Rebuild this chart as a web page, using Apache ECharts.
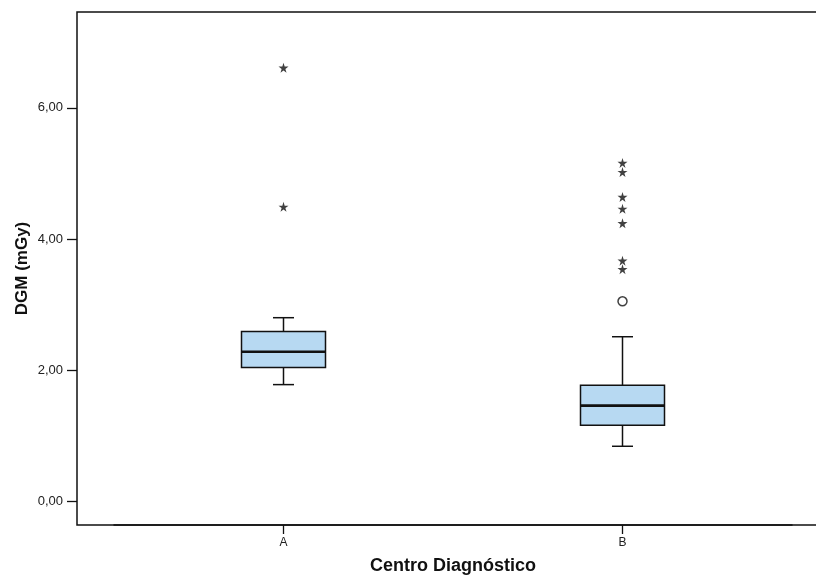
<!DOCTYPE html>
<html>
<head>
<meta charset="utf-8">
<script src="https://cdn.jsdelivr.net/npm/echarts@6/dist/echarts.min.js"></script>
<style>html,body{margin:0;padding:0;background:#fff;}#c{width:816px;height:578px;}</style>
</head>
<body>
<div id="c"></div>
<script>
// ---- data ----
var categories = ['A', 'B'];
// [lower whisker, Q1, median, Q3, upper whisker]
var boxA = [1.78, 2.04, 2.28, 2.59, 2.80];
var boxB = [0.84, 1.16, 1.46, 1.77, 2.51];
var extremesA = [6.61, 4.49];                                // stars
var extremesB = [5.16, 5.02, 4.64, 4.46, 4.24, 3.67, 3.54];  // stars
var outliersB = [3.05];                                      // circle
var yTicks = [0, 2, 4, 6];
var yName = 'DGM (mGy)';
var xName = 'Centro Diagnóstico';

var boxData = [[0].concat(boxA), [1].concat(boxB)];
var starData = extremesA.map(function (v) { return ['A', v]; })
  .concat(extremesB.map(function (v) { return ['B', v]; }));
var circleData = outliersB.map(function (v) { return ['B', v]; });

var STAR = 'path://M50,0 L61,35 L98,35 L68,57 L79,91 L50,70 L21,91 L32,57 L2,35 L39,35 Z';
var YMIN = -0.36, YMAX = 7.46;
var font = '"Liberation Sans", Arial, sans-serif';

function fmt(v) { return v.toFixed(2).replace('.', ','); }

var chart = echarts.init(document.getElementById('c'), null, { renderer: 'canvas' });
chart.setOption({
  backgroundColor: '#ffffff',
  animation: false,
  grid: [
    { left: 77, right: -2, top: 12, bottom: 53, show: true, borderColor: '#111', borderWidth: 1.5,
      backgroundColor: 'transparent', containLabel: false, outerBoundsMode: 'none' },
    { left: 114, width: 678, top: 12, bottom: 53, containLabel: false, outerBoundsMode: 'none' }
  ],
  xAxis: [
    { gridIndex: 0, type: 'value', min: 0, max: 1, show: false },
    {
      gridIndex: 1, type: 'category', data: categories, position: 'bottom',
      axisLine: { show: true, onZero: false, lineStyle: { color: '#111', width: 1.5 } },
      axisTick: { show: true, alignWithLabel: true, length: 9, lineStyle: { color: '#111', width: 1.3 } },
      axisLabel: { color: '#222', fontSize: 12, fontFamily: font, margin: 12 },
      name: xName, nameLocation: 'middle', nameGap: 32,
      nameTextStyle: { color: '#111', fontSize: 18, fontWeight: 'bold', fontFamily: font }
    }
  ],
  yAxis: [
    {
      gridIndex: 0, type: 'value', min: YMIN, max: YMAX,
      axisLine: { show: false },
      splitLine: { show: false },
      axisTick: { show: true, length: 10, customValues: yTicks, lineStyle: { color: '#111', width: 1.3 } },
      axisLabel: { customValues: yTicks, formatter: fmt, color: '#222', fontSize: 13, fontFamily: font, margin: 14 },
      name: yName, nameLocation: 'middle', nameGap: 46, nameRotate: 90, nameMoveOverlap: false,
      nameTextStyle: { color: '#111', fontSize: 17, fontWeight: 'bold', fontFamily: font }
    },
    { gridIndex: 1, type: 'value', min: YMIN, max: YMAX, show: false }
  ],
  series: [
    {
      type: 'custom', xAxisIndex: 1, yAxisIndex: 1,
      data: boxData,
      encode: { x: 0, y: [1, 2, 3, 4, 5] },
      renderItem: function (params, api) {
        var xi = api.value(0);
        var pLo = api.coord([xi, api.value(1)]);
        var pQ1 = api.coord([xi, api.value(2)]);
        var pMd = api.coord([xi, api.value(3)]);
        var pQ3 = api.coord([xi, api.value(4)]);
        var pHi = api.coord([xi, api.value(5)]);
        var cx = pLo[0];
        var hw = 42, cw = 10.5;
        var st = { stroke: '#111', lineWidth: 1.5 };
        return {
          type: 'group',
          children: [
            { type: 'line', shape: { x1: cx, y1: pQ3[1], x2: cx, y2: pHi[1] }, style: st },
            { type: 'line', shape: { x1: cx, y1: pQ1[1], x2: cx, y2: pLo[1] }, style: st },
            { type: 'line', shape: { x1: cx - cw, y1: pHi[1], x2: cx + cw, y2: pHi[1] }, style: st },
            { type: 'line', shape: { x1: cx - cw, y1: pLo[1], x2: cx + cw, y2: pLo[1] }, style: st },
            { type: 'rect', shape: { x: cx - hw, y: pQ3[1], width: 2 * hw, height: pQ1[1] - pQ3[1] },
              style: { fill: '#b7d9f2', stroke: '#111', lineWidth: 1.5 } },
            { type: 'line', shape: { x1: cx - hw, y1: pMd[1], x2: cx + hw, y2: pMd[1] }, style: { stroke: '#111', lineWidth: 2.6 } }
          ]
        };
      }
    },
    {
      type: 'scatter', xAxisIndex: 1, yAxisIndex: 1,
      data: starData, symbol: STAR, symbolSize: 10,
      itemStyle: { color: '#111' }
    },
    {
      type: 'scatter', xAxisIndex: 1, yAxisIndex: 1,
      data: circleData, symbol: 'circle', symbolSize: 9,
      itemStyle: { color: '#fff', borderColor: '#111', borderWidth: 1.5 }
    }
  ]
});
</script>
</body>
</html>
